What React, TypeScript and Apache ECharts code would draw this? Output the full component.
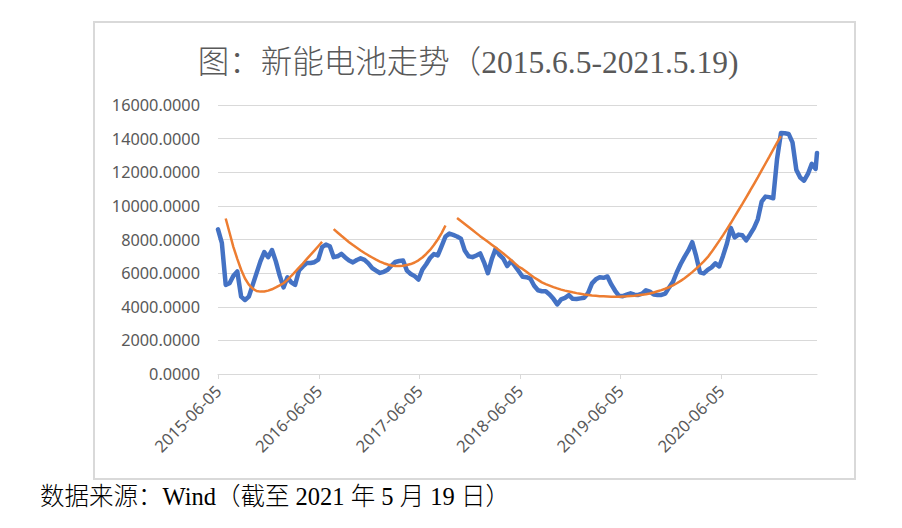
import React, { useEffect, useRef } from "react";
import * as echarts from "echarts";

const DAY = 86400000;
const START = Date.UTC(2015, 5, 5);
const END = Date.UTC(2021, 4, 19);
const STEP_DAYS = 14;

const titleText = "图：新能电池走势（2015.6.5-2021.5.19)";
const footerText = "数据来源：Wind（截至 2021 年 5 月 19 日）";

const xTickDates = ["2015-06-05", "2016-06-05", "2017-06-05", "2018-06-05", "2019-06-05", "2020-06-05"];
const yTicks = [0, 2000, 4000, 6000, 8000, 10000, 12000, 14000, 16000];

// index value series, sampled every 14 days from 2015-06-05, last point 2021-05-19
const batteryIndex = [
  8600, 7800, 5300, 5400, 5850, 6100, 4600, 4400, 4600, 5300,
  6000, 6700, 7250, 6950, 7375, 6700, 5850, 5150, 5750, 5450,
  5300, 6150, 6400, 6600, 6600, 6650, 6800, 7550, 7700, 7600,
  6950, 7000, 7150, 6930, 6750, 6640, 6780, 6880, 6790, 6580,
  6300, 6150, 6010, 6080, 6200, 6450, 6660, 6720, 6750, 6150,
  5950, 5820, 5620, 6210, 6530, 6900, 7130, 7050, 7600, 8180,
  8350, 8270, 8180, 8050, 7350, 7000, 6950, 7050, 7170, 6640,
  6000, 6820, 7450, 7080, 6860, 6420, 6710, 6430, 6110, 5780,
  5760, 5680, 5250, 4980, 4920, 4920, 4730, 4470, 4140, 4440,
  4530, 4690, 4470, 4460, 4500, 4540, 4820, 5390, 5630, 5750,
  5720, 5800, 5330, 4950, 4650, 4630, 4720, 4800, 4720, 4700,
  4780, 4980, 4900, 4730, 4700, 4700, 4780, 5150, 5480, 6050,
  6540, 6970, 7350, 7840, 7020, 6050, 5980, 6190, 6340, 6580,
  6400, 7040, 7760, 8690, 8130, 8290, 8250, 7950, 8300, 8680,
  9200, 10250, 10550, 10520, 10450, 12800, 14330, 14320, 14280, 13780,
  12140, 11690, 11500, 11900, 12500, 12200, 13150,
];

// trend curves: starting sample index + values
const trend1Start = 2;
const trend1 = [
  9250, 8400, 7550, 6850, 6200, 5680, 5320, 5080, 4940, 4900,
  4910, 4960, 5040, 5150, 5270, 5400, 5600, 5830, 6080, 6330,
  6570, 6830, 7090, 7340, 7600, 7860,
];
const trend2Start = 30;
const trend2 = [
  8620, 8420, 8220, 8030, 7840, 7670, 7510, 7350, 7200, 7060,
  6930, 6800, 6690, 6590, 6510, 6450, 6420, 6420, 6440, 6480,
  6540, 6630, 6760, 6930, 7140, 7380, 7670, 8000, 8380, 8830,
];
const trend3Start = 62;
const trend3 = [
  9280, 9100, 8920, 8740, 8560, 8380, 8200, 8030, 7860, 7690,
  7520, 7350, 7170, 6980, 6780, 6580, 6380, 6250, 6080, 5900,
  5740, 5600, 5450, 5350, 5260, 5170, 5090, 5020, 4960, 4910,
  4860, 4810, 4770, 4730, 4700, 4670, 4650, 4630, 4620, 4610,
  4600, 4600, 4600, 4610, 4620, 4640, 4660, 4690, 4720, 4740,
  4790, 4850, 4920, 4990, 5070, 5160, 5270, 5400, 5540, 5700,
  5870, 6060, 6260, 6480, 6700, 6950, 7250, 7580, 7920, 8260,
  8620, 8980, 9360, 9740, 10120, 10510, 10900, 11300, 11700, 12110,
  12520, 12930, 13350, 13760, 14150,
];

const parseDate = (s: string) => {
  const [y, m, d] = s.split("-").map(Number);
  return Date.UTC(y, m - 1, d);
};
const fmtDate = (v: number) => {
  const d = new Date(Math.round(v / DAY) * DAY);
  const p = (n: number) => (n < 10 ? "0" + n : "" + n);
  return `${d.getUTCFullYear()}-${p(d.getUTCMonth() + 1)}-${p(d.getUTCDate())}`;
};

const sampleTimes = batteryIndex.map((_, i) =>
  i === batteryIndex.length - 1 ? END : START + i * STEP_DAYS * DAY
);

const seriesFrom = (startIdx: number, vals: number[]) =>
  vals.map((v, k) => [sampleTimes[startIdx + k], v]);

const serifCJK = "'Liberation Serif', 'Noto Sans CJK SC', serif";
const labelFont = "'Noto Sans', 'Open Sans', sans-serif";

export default function App() {
  const ref = useRef<HTMLDivElement>(null);
  useEffect(() => {
    if (!ref.current) return;
    const chart = echarts.init(ref.current, null, { renderer: "svg" });
    const tickTimes = xTickDates.map(parseDate);
    const trendStyle = {
      type: "line",
      showSymbol: false,
      symbol: "none",
      lineStyle: { color: "#ED7D31", width: 2.5 },
      z: 3,
    };
    chart.setOption({
      animation: false,
      backgroundColor: "#ffffff",
      title: {
        text: titleText,
        left: 463,
        top: 42,
        textAlign: "center",
        textStyle: { fontSize: 31.5, fontWeight: 300, color: "#595959", fontFamily: serifCJK },
      },
      graphic: [
        {
          type: "rect",
          silent: true,
          z: -10,
          shape: { x: 94, y: 22, width: 761, height: 457 },
          style: { fill: "none", stroke: "#d9d9d9", lineWidth: 2 },
        },
        {
          type: "text",
          left: 40,
          top: 484,
          style: { text: footerText, fontSize: 24.5, fontWeight: 300, fill: "#000000", fontFamily: serifCJK },
        },
      ],
      grid: { left: 218, right: 85, top: 105, bottom: 154 },
      xAxis: {
        type: "value",
        min: START,
        max: END,
        scale: true,
        splitLine: { show: false },
        axisLine: { show: true, lineStyle: { color: "#d9d9d9", width: 1.2 } },
        axisTick: { show: true, customValues: tickTimes, length: 5, lineStyle: { color: "#d9d9d9" } },
        axisLabel: {
          customValues: tickTimes,
          rotate: 45,
          margin: 14,
          color: "#595959",
          fontSize: 16.5,
          fontFamily: labelFont,
          formatter: (v: number) => fmtDate(v),
        },
      },
      yAxis: {
        type: "value",
        min: yTicks[0],
        max: yTicks[yTicks.length - 1],
        interval: 2000,
        axisLine: { show: false },
        axisTick: { show: false },
        splitLine: { lineStyle: { color: "#d9d9d9", width: 1.2 } },
        axisLabel: {
          margin: 18,
          color: "#595959",
          fontSize: 16.3,
          fontFamily: labelFont,
          formatter: (v: number) => v.toFixed(4),
        },
      },
      series: [
        {
          type: "line",
          data: batteryIndex.map((v, i) => [sampleTimes[i], v]),
          showSymbol: false,
          symbol: "none",
          lineStyle: { color: "#4472C4", width: 4.5, join: "round", cap: "round" },
          z: 2,
        },
        { ...trendStyle, data: seriesFrom(trend1Start, trend1) },
        { ...trendStyle, data: seriesFrom(trend2Start, trend2) },
        { ...trendStyle, data: seriesFrom(trend3Start, trend3) },
      ],
    });
    return () => chart.dispose();
  }, []);
  return (
    <div
      ref={ref}
      style={{ position: "absolute", left: 0, top: 0, width: 902, height: 528, background: "#fff" }}
    />
  );
}
